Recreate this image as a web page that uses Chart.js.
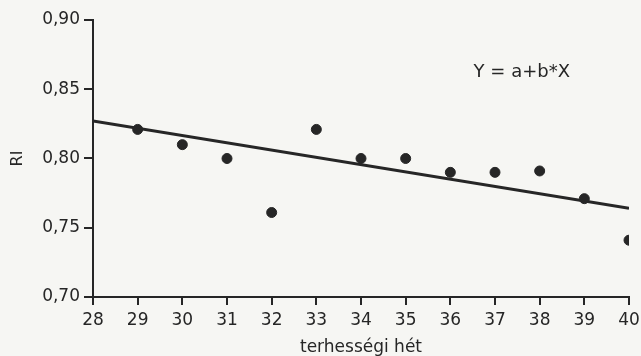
<!DOCTYPE html>
<html>
<head>
<meta charset="utf-8">
<script src="https://cdn.jsdelivr.net/npm/chart.js@4/dist/chart.umd.min.js"></script>
<style>
    html, body { margin: 0; padding: 0; background: #f6f6f3; }
    #wrap { width: 641px; height: 356px; position: relative; }
</style>
</head>
<body>
<div id="wrap"><canvas id="riChart" width="641" height="356"></canvas></div>
<script>
// Measured points (pregnancy week -> RI)
const weeks = [29, 30, 31, 32, 33, 34, 35, 36, 37, 38, 39, 40];
const riValues = [0.821, 0.810, 0.800, 0.761, 0.821, 0.800, 0.800, 0.790, 0.790, 0.791, 0.771, 0.741];

// Regression line end points
const fitX = [28, 40];
const fitY = [0.827, 0.764];

const xTicks = [28, 29, 30, 31, 32, 33, 34, 35, 36, 37, 38, 39, 40];
const yTicks = [0.70, 0.75, 0.80, 0.85, 0.90];

const ink = '#262626';
const fontFamily = '"DejaVu Sans", sans-serif';

// Formula text placed in the upper right of the plot
const formulaPlugin = {
    id: 'formula',
    afterDatasetsDraw(chart) {
        const { ctx, scales } = chart;
        ctx.save();
        ctx.fillStyle = ink;
        ctx.font = '18px ' + fontFamily;
        ctx.textAlign = 'center';
        ctx.textBaseline = 'middle';
        ctx.fillText('Y = a+b*X', scales.x.getPixelForValue(37.6), scales.y.getPixelForValue(0.862));
        ctx.restore();
    }
};

const ctx = document.getElementById('riChart').getContext('2d');

new Chart(ctx, {
    type: 'scatter',
    data: {
        datasets: [
            {
                label: 'RI',
                data: weeks.map((w, i) => ({ x: w, y: riValues[i] })),
                backgroundColor: ink,
                borderColor: ink,
                pointRadius: 5,
                pointHoverRadius: 5
            },
            {
                type: 'line',
                label: 'fit',
                data: fitX.map((x, i) => ({ x: x, y: fitY[i] })),
                borderColor: ink,
                borderWidth: 3,
                pointRadius: 0,
                fill: false
            }
        ]
    },
    options: {
        responsive: false,
        animation: false,
        layout: { padding: { left: 0, right: 12, top: 20, bottom: 0 } },
        plugins: {
            legend: { display: false },
            tooltip: { enabled: false }
        },
        scales: {
            x: {
                type: 'linear',
                min: 28,
                max: 40,
                afterBuildTicks: (scale) => { scale.ticks = xTicks.map(v => ({ value: v })); },
                afterFit: (scale) => { scale.height = 59; scale.paddingRight = 0; },
                grid: { display: true, drawOnChartArea: false, drawTicks: true, tickLength: 8, color: ink, lineWidth: 2 },
                border: { display: true, color: ink, width: 2 },
                ticks: { color: ink, font: { family: fontFamily, size: 17 }, padding: 5, maxRotation: 0 },
                title: {
                    display: true,
                    text: 'terhességi hét',
                    color: ink,
                    font: { family: fontFamily, size: 17 },
                    padding: { top: 0, bottom: -2 }
                }
            },
            y: {
                min: 0.70,
                max: 0.90,
                afterBuildTicks: (scale) => { scale.ticks = yTicks.map(v => ({ value: v })); },
                afterFit: (scale) => { scale.width = 93; },
                grid: { display: true, drawOnChartArea: false, drawTicks: true, tickLength: 9, color: ink, lineWidth: 2 },
                border: { display: true, color: ink, width: 2 },
                ticks: {
                    color: ink,
                    font: { family: fontFamily, size: 17 },
                    padding: 4,
                    callback: (v) => Number(v).toFixed(2).replace('.', ',')
                },
                title: {
                    display: true,
                    text: 'RI',
                    color: ink,
                    font: { family: fontFamily, size: 16 },
                    padding: { top: 8, bottom: 0 }
                }
            }
        }
    },
    plugins: [formulaPlugin]
});
</script>
</body>
</html>
